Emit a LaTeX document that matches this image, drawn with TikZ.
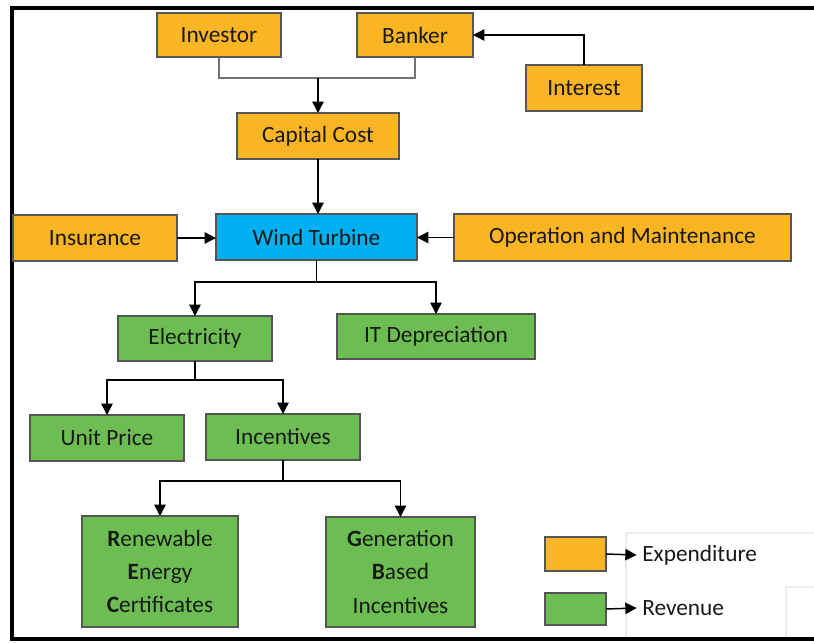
\documentclass[tikz,border=0pt]{standalone}
\usepackage{fontspec}
\setmainfont{Carlito}
\usetikzlibrary{arrows.meta}
\definecolor{boxorange}{RGB}{250,181,36}
\definecolor{boxblue}{RGB}{0,176,240}
\definecolor{boxgreen}{RGB}{108,190,82}
\definecolor{boxline}{RGB}{85,85,85}
\definecolor{txt}{RGB}{25,25,25}
\newcommand\bx[7]{\node[#6, minimum width={(#4-#2)*0.75pt}, minimum height={(#5-#3)*0.75pt}] (#1) at ({(#2+#4)/2},{(#3+#5)/2}) {#7};}
\begin{document}
\begin{tikzpicture}[x=0.75pt,y=-0.75pt,
  box/.style={draw=boxline, line width=0.8pt, inner sep=0pt, outer sep=0pt, text=txt, font=\fontsize{17.5}{25}\selectfont, align=center},
  exp/.style={box, fill=boxorange},
  wtb/.style={box, fill=boxblue},
  rev/.style={box, fill=boxgreen},
  conn/.style={line width=1.1pt, black},
  arr/.style={conn, -{Triangle[length=8.5pt,width=8.5pt]}},
  gline/.style={line width=1pt, black!55},
  legtext/.style={inner sep=0pt, anchor=west, text=txt, font=\fontsize{17.5}{25}\selectfont}]
\useasboundingbox (0,0) rectangle (814,643);
% faint legend lines
\draw[gray!15, line width=0.8pt] (626,639) -- (626,533) -- (814,533);
\draw[gray!15, line width=0.8pt] (786,639) -- (786,587) -- (814,587);
% frame
\draw[line width=2.4pt, black] (814,8) -- (12,8) -- (12,639) -- (814,639);
% boxes
\bx{inv}{157}{13}{281}{57}{exp}{Investor}
\bx{bank}{357}{13}{473}{57}{exp}{Banker}
\bx{int}{526}{65}{642}{111}{exp}{Interest}
\bx{cap}{237}{113}{399}{159}{exp}{Capital Cost}
\bx{wt}{216}{214}{417}{260}{wtb}{Wind Turbine}
\bx{ins}{13}{215}{177}{261}{exp}{Insurance}
\bx{om}{454}{214}{791}{261}{exp}{Operation and Maintenance}
\bx{elec}{118}{316}{272}{361}{rev}{Electricity}
\bx{itd}{337}{314}{535}{359}{rev}{IT Depreciation}
\bx{up}{30}{415}{184}{461}{rev}{Unit Price}
\bx{inc}{206}{414}{360}{460}{rev}{Incentives}
\bx{rec}{82}{516}{238}{627}{rev}{\textbf{R}enewable\\\textbf{E}nergy\\\textbf{C}ertificates}
\bx{gbi}{326}{517}{475}{627}{rev}{\textbf{G}eneration\\\textbf{B}ased\\Incentives}
\bx{leg1}{545}{537}{606}{571}{exp}{}
\bx{leg2}{545}{593}{606}{625}{rev}{}
\node[legtext] (expt) at (642,555) {Expenditure};
\node[legtext] (revt) at (642,608) {Revenue};
% connectors
\coordinate (j1) at (318,78);
\draw[gline] (inv.south) |- (j1) -| (bank.south);
\draw[arr] (j1) -- (cap.north);
\draw[arr] (int.north) |- (bank.east);
\draw[arr] (cap.south) -- (cap.south |- wt.north);
\draw[arr] (ins.east) -- (ins.east -| wt.west);
\draw[arr] (om.west) -- (om.west -| wt.east);
\coordinate (j2) at (317,282);
\draw[conn] (wt.south) -- (wt.south |- j2);
\draw[arr] (wt.south |- j2) -| (elec.north);
\draw[arr] (wt.south |- j2) -| (itd.north);
\coordinate (j3) at (196,380);
\draw[conn] (elec.south) -- (elec.south |- j3);
\draw[arr] (elec.south |- j3) -| (up.north);
\draw[arr] (elec.south |- j3) -| (inc.north);
\coordinate (j4) at (283,481);
\draw[conn] (inc.south) -- (inc.south |- j4);
\draw[arr] (inc.south |- j4) -| (rec.north);
\draw[arr] (inc.south |- j4) -| (gbi.north);
\draw[arr] (leg1.east) -- ([xshift=-4pt]expt.west);
\draw[arr] (leg2.east) -- ([xshift=-4pt]revt.west);
\end{tikzpicture}
\end{document}
